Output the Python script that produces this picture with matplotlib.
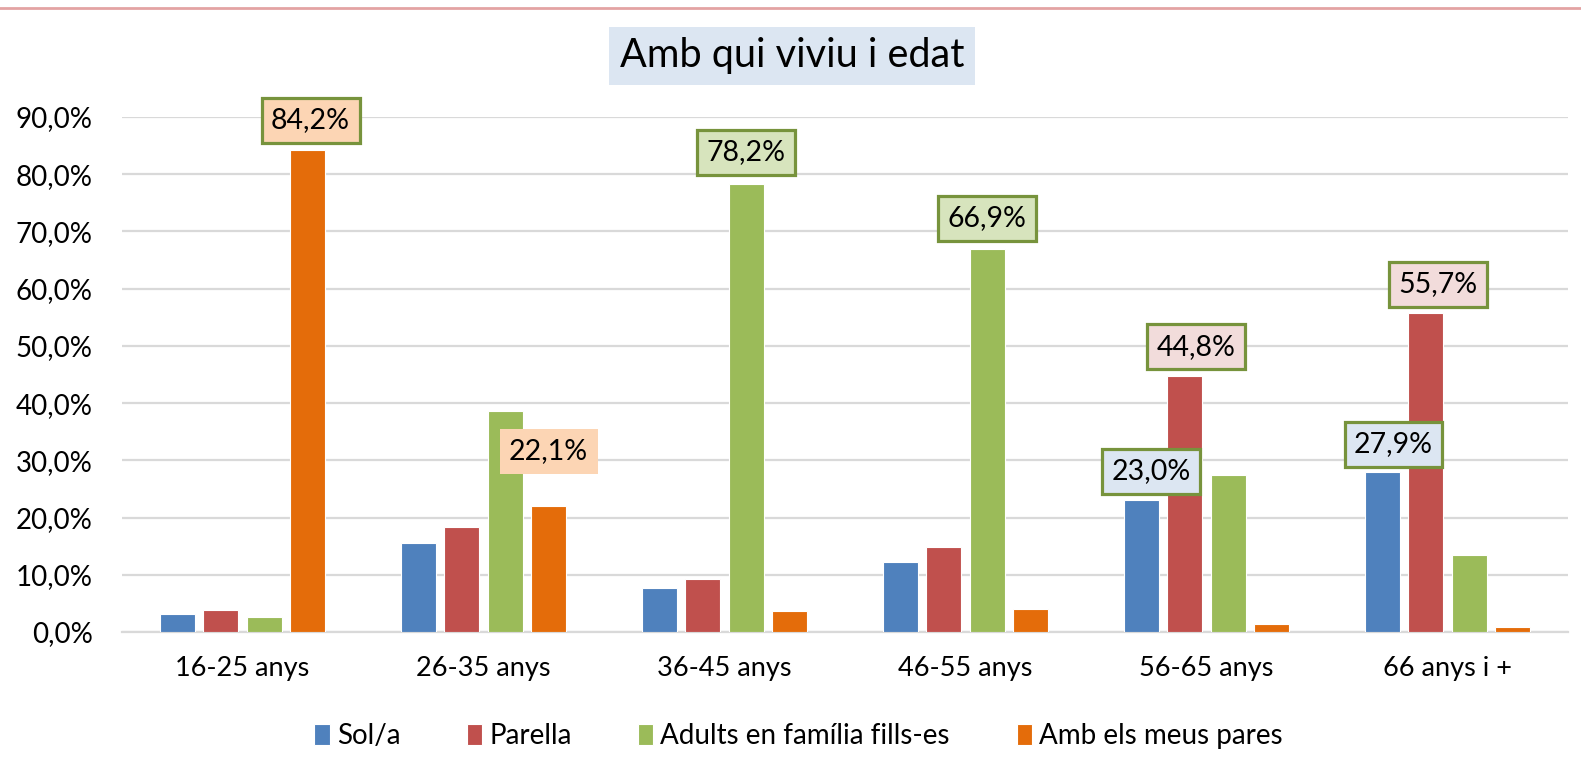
import matplotlib.pyplot as plt
import numpy as np
from matplotlib.lines import Line2D

plt.rcParams['font.family'] = ['Lato', 'DejaVu Sans']

groups = ['16-25 anys', '26-35 anys', '36-45 anys', '46-55 anys', '56-65 anys', '66 anys i +']
series = ['Sol/a', 'Parella', 'Adults en família fills-es', 'Amb els meus pares']
sola = [3.1, 15.5, 7.7, 12.3, 23.0, 27.9]
parella = [3.8, 18.4, 9.2, 14.8, 44.8, 55.7]
adults = [2.7, 38.6, 78.2, 66.9, 27.5, 13.5]
pares = [84.2, 22.1, 3.6, 4.1, 1.4, 0.8]
colors = ['#4F81BD', '#C0504D', '#9BBB59', '#E46C0A']

# highlighted labels: (series index, group index, fill, bordered, dx px, dy px)
highlights = [
    (3, 0, '#FCD5B4', True, 3, 30),
    (3, 1, '#FCD5B4', False, 0, 54),
    (2, 2, '#D7E4BD', True, 0, 32),
    (2, 3, '#D7E4BD', True, 0, 31),
    (0, 4, '#DCE6F2', True, 10, 29),
    (1, 4, '#F2DCDB', True, 11, 29),
    (0, 5, '#DCE6F2', True, 11, 28),
    (1, 5, '#F2DCDB', True, 12, 29),
]

fig = plt.figure(figsize=(15.81, 7.74), dpi=100)
ax = fig.add_axes([0.0772, 0.1835, 0.9146, 0.6654])

x = np.arange(len(groups))
pitch = 0.18
width = 0.145
data = [sola, parella, adults, pares]
for i, vals in enumerate(data):
    ax.bar(x + (i - 1.5) * pitch, vals, width, color=colors[i], label=series[i],
           edgecolor='white', linewidth=0.8, zorder=3)

for si, gi, fill, border, dx, dy in highlights:
    v = data[si][gi]
    ax.annotate(f'{v:.1f}%'.replace('.', ','), (x[gi] + (si - 1.5) * pitch, v),
                xytext=(dx, dy), textcoords='offset pixels', ha='center', va='center',
                fontsize=20.5, zorder=5,
                bbox=dict(boxstyle='square,pad=0.33', facecolor=fill,
                          edgecolor='#77933C' if border else 'none', linewidth=2.3))

ax.set_xlim(-0.5, len(groups) - 0.5)
ax.set_ylim(0, 90)
ax.set_yticks(np.arange(0, 91, 10))
ax.set_yticklabels([f'{t:.1f}%'.replace('.', ',') for t in np.arange(0, 91, 10)])
ax.set_xticks(x)
ax.set_xticklabels(groups)
ax.tick_params(axis='y', length=0, pad=21, labelsize=20)
ax.tick_params(axis='x', length=0, pad=17, labelsize=19.5)
ax.grid(axis='y', color='#D9D9D9', linewidth=1.6, zorder=0)
for s in ['top', 'right', 'left']:
    ax.spines[s].set_visible(False)
ax.spines['bottom'].set_color('#D9D9D9')
ax.spines['bottom'].set_linewidth(1.6)

fig.text(792 / 1581, 1 - 56 / 774, 'Amb qui viviu i edat', ha='center', va='center',
         fontsize=28.5, bbox=dict(boxstyle='square,pad=0.27', facecolor='#DCE6F2', edgecolor='none'))

fig.legend(loc='center', bbox_to_anchor=(0.505, 1 - 736 / 774), ncol=4, frameon=False,
           fontsize=20, handlelength=0.55, handleheight=0.8, handletextpad=0.25,
           columnspacing=2.4)

fig.add_artist(Line2D([0, 1], [1 - 8 / 774] * 2, transform=fig.transFigure,
                      color='#E3A3A3', linewidth=2))

fig.savefig('out.png', dpi=100)
